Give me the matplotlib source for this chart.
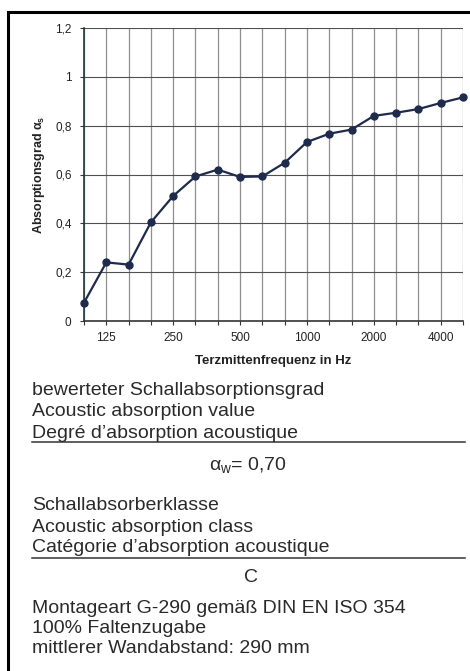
import matplotlib
matplotlib.use('Agg')
import matplotlib.pyplot as plt
from matplotlib.patches import Rectangle
from matplotlib.lines import Line2D

plt.rcParams['font.family'] = ['Liberation Sans', 'DejaVu Sans']
plt.rcParams['mathtext.fontset'] = 'custom'
plt.rcParams['mathtext.rm'] = 'Liberation Sans'
plt.rcParams['mathtext.it'] = 'Liberation Sans:italic'
plt.rcParams['mathtext.bf'] = 'Liberation Sans:bold'

# third-octave band centre frequencies and measured absorption
bands = [100, 125, 160, 200, 250, 315, 400, 500, 630, 800, 1000,
         1250, 1600, 2000, 2500, 3150, 4000, 5000]
alpha_s = [0.075, 0.24, 0.231, 0.404, 0.512, 0.592, 0.62, 0.59, 0.592,
           0.648, 0.733, 0.767, 0.784, 0.84, 0.853, 0.868, 0.893, 0.916]
labelled_bands = [125, 250, 500, 1000, 2000, 4000]
y_ticks = [0, 0.2, 0.4, 0.6, 0.8, 1.0, 1.2]
y_ticklabels = ['0', '0,2', '0,4', '0,6', '0,8', '1', '1,2']

W, H = 470, 671
fig = plt.figure(figsize=(W / 100, H / 100), dpi=100)

def fx(px):
    return px / W

def fy(py):
    return 1 - py / H

# outer frame
fig.patches.append(Rectangle((fx(8), fy(700)), fx(480), fy(12) - fy(700),
                             transform=fig.transFigure, fill=False,
                             edgecolor='black', linewidth=2.2))

ax = fig.add_axes([fx(84), fy(321), fx(463) - fx(84), fy(28) - fy(321)])
idx = list(range(len(bands)))

for i in idx:
    ax.axvline(i, color='#8f8f8f', linewidth=0.9, zorder=1)
for v in y_ticks[1:]:
    ax.axhline(v, color='#505050', linewidth=0.8, zorder=1)

ax.plot(idx, alpha_s, '-o', color='#1e2b4d', linewidth=1.6,
        markersize=5, zorder=3, clip_on=False)

ax.set_xlim(0, len(bands) - 1)
ax.set_ylim(0, 1.2)
ax.set_xticks(idx)
ax.set_xticklabels([str(b) if b in labelled_bands else '' for b in bands])
ax.set_yticks(y_ticks)
ax.set_yticklabels(y_ticklabels)
ax.tick_params(axis='both', labelsize=8.5, length=3, width=0.8, color='#333333',
               labelcolor='#222222')
ax.tick_params(axis='x', pad=5)
ax.tick_params(axis='y', pad=6)
for s in ['top', 'right']:
    ax.spines[s].set_visible(False)
ax.spines['left'].set_color('#1f3a3a')
ax.spines['bottom'].set_color('#333333')
ax.spines['left'].set_linewidth(1.2)
ax.spines['bottom'].set_linewidth(1.2)

ax.set_ylabel(r'Absorptionsgrad $\mathbf{α}_\mathbf{s}$', fontsize=9,
              fontweight='bold', color='#222222', labelpad=6)
ax.set_xlabel('Terzmittenfrequenz in Hz', fontsize=9.5, fontweight='bold',
              color='#222222', labelpad=8)

# text block below the chart
fs = 14
tc = '#2a2a2a'
lines_left = [
    (395, 'bewerteter Schallabsorptionsgrad'),
    (416.5, 'Acoustic absorption value'),
    (437.5, 'Degré d\u2019absorption acoustique'),
    (510.5, 'Schallabsorberklasse'),
    (531.5, 'Acoustic absorption class'),
    (551.5, 'Catégorie d\u2019absorption acoustique'),
    (613, 'Montageart G-290 gemäß DIN EN ISO 354'),
    (633, '100% Faltenzugabe'),
    (653, 'mittlerer Wandabstand: 290 mm'),
]
for py, s in lines_left:
    fig.text(fx(32), fy(py), s, fontsize=fs, color=tc, va='baseline', ha='left')

for py in [441.5, 557.5]:
    fig.lines.append(Line2D([fx(32), fx(465)], [fy(py), fy(py)],
                            transform=fig.transFigure, color='#333333',
                            linewidth=1.1))

fig.text(fx(248), fy(470), r'$\mathrm{α}_\mathrm{w}$= 0,70', fontsize=fs,
         color=tc, va='baseline', ha='center')
fig.text(fx(251), fy(582.5), 'C', fontsize=fs, color=tc, va='baseline',
         ha='center')

fig.savefig('out.png', dpi=100)
